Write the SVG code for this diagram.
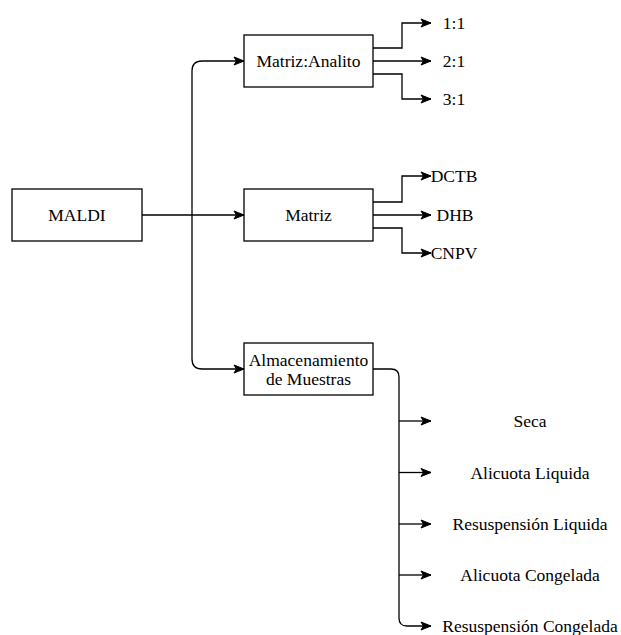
<svg xmlns="http://www.w3.org/2000/svg" width="621" height="635" viewBox="0 0 621 635">
<style>
.box{fill:#fff;stroke:#000;stroke-width:1.3}
.t{font-family:"Liberation Serif",Tinos,"Times New Roman","DejaVu Serif",serif;font-size:17.5px;fill:#000;text-anchor:middle}
.e{fill:none;stroke:#000;stroke-width:1.3}
</style>
<defs>
<marker id="arr" markerUnits="userSpaceOnUse" markerWidth="12" markerHeight="10" refX="11" refY="5" orient="auto">
<path d="M1,1 L11,5 L1,9 L3.5,5 Z" fill="#000" stroke="#000" stroke-width="1"/>
</marker>
</defs>
<rect width="621" height="635" fill="#fff"/>
<g id="connectors">
<path class="e" d="M142,215 H244" marker-end="url(#arr)"/>
<path class="e" d="M192,215 V71 Q192,61 202,61 H244" marker-end="url(#arr)"/>
<path class="e" d="M192,215 V359 Q192,369 202,369 H244" marker-end="url(#arr)"/>
<path class="e" d="M373,48 H402 V23 H431" marker-end="url(#arr)"/>
<path class="e" d="M373,61 H431" marker-end="url(#arr)"/>
<path class="e" d="M373,74 H402 V99 H431" marker-end="url(#arr)"/>
<path class="e" d="M373,202 H402 V176 H431" marker-end="url(#arr)"/>
<path class="e" d="M373,215 H431" marker-end="url(#arr)"/>
<path class="e" d="M373,228 H402 V253 H431" marker-end="url(#arr)"/>
<path class="e" d="M373,369 H391 Q399,369 399,377 V618 Q399,626 407,626 H431" marker-end="url(#arr)"/>
<path class="e" d="M399,421 H431" marker-end="url(#arr)"/>
<path class="e" d="M399,472.5 H431" marker-end="url(#arr)"/>
<path class="e" d="M399,524 H431" marker-end="url(#arr)"/>
<path class="e" d="M399,575 H431" marker-end="url(#arr)"/>
</g>
<g id="maldi"><rect class="box" x="12" y="189" width="130" height="52"/><text class="t" x="77" y="221">MALDI</text></g>
<g id="matriz-analito"><rect class="box" x="244" y="35" width="129" height="52"/><text class="t" x="308.5" y="67">Matriz:Analito</text></g>
<g id="matriz"><rect class="box" x="244" y="189" width="129" height="52"/><text class="t" x="308.5" y="221">Matriz</text></g>
<g id="almacenamiento"><rect class="box" x="244" y="343" width="129" height="52"/><text class="t" x="308.5" y="366">Almacenamiento</text><text class="t" x="308.5" y="385">de Muestras</text></g>
<g id="r11"><text class="t" x="454" y="29">1:1</text></g>
<g id="r21"><text class="t" x="454" y="67">2:1</text></g>
<g id="r31"><text class="t" x="454" y="105">3:1</text></g>
<g id="dctb"><text class="t" x="454" y="182">DCTB</text></g>
<g id="dhb"><text class="t" x="455" y="221">DHB</text></g>
<g id="cnpv"><text class="t" x="454" y="259">CNPV</text></g>
<g id="seca"><text class="t" x="530" y="427">Seca</text></g>
<g id="alicuota-liquida"><text class="t" x="530" y="478.5">Alicuota Liquida</text></g>
<g id="resuspension-liquida"><text class="t" x="530" y="530">Resuspensión Liquida</text></g>
<g id="alicuota-congelada"><text class="t" x="530" y="581">Alicuota Congelada</text></g>
<g id="resuspension-congelada"><text class="t" x="530" y="632">Resuspensión Congelada</text></g>
</svg>
